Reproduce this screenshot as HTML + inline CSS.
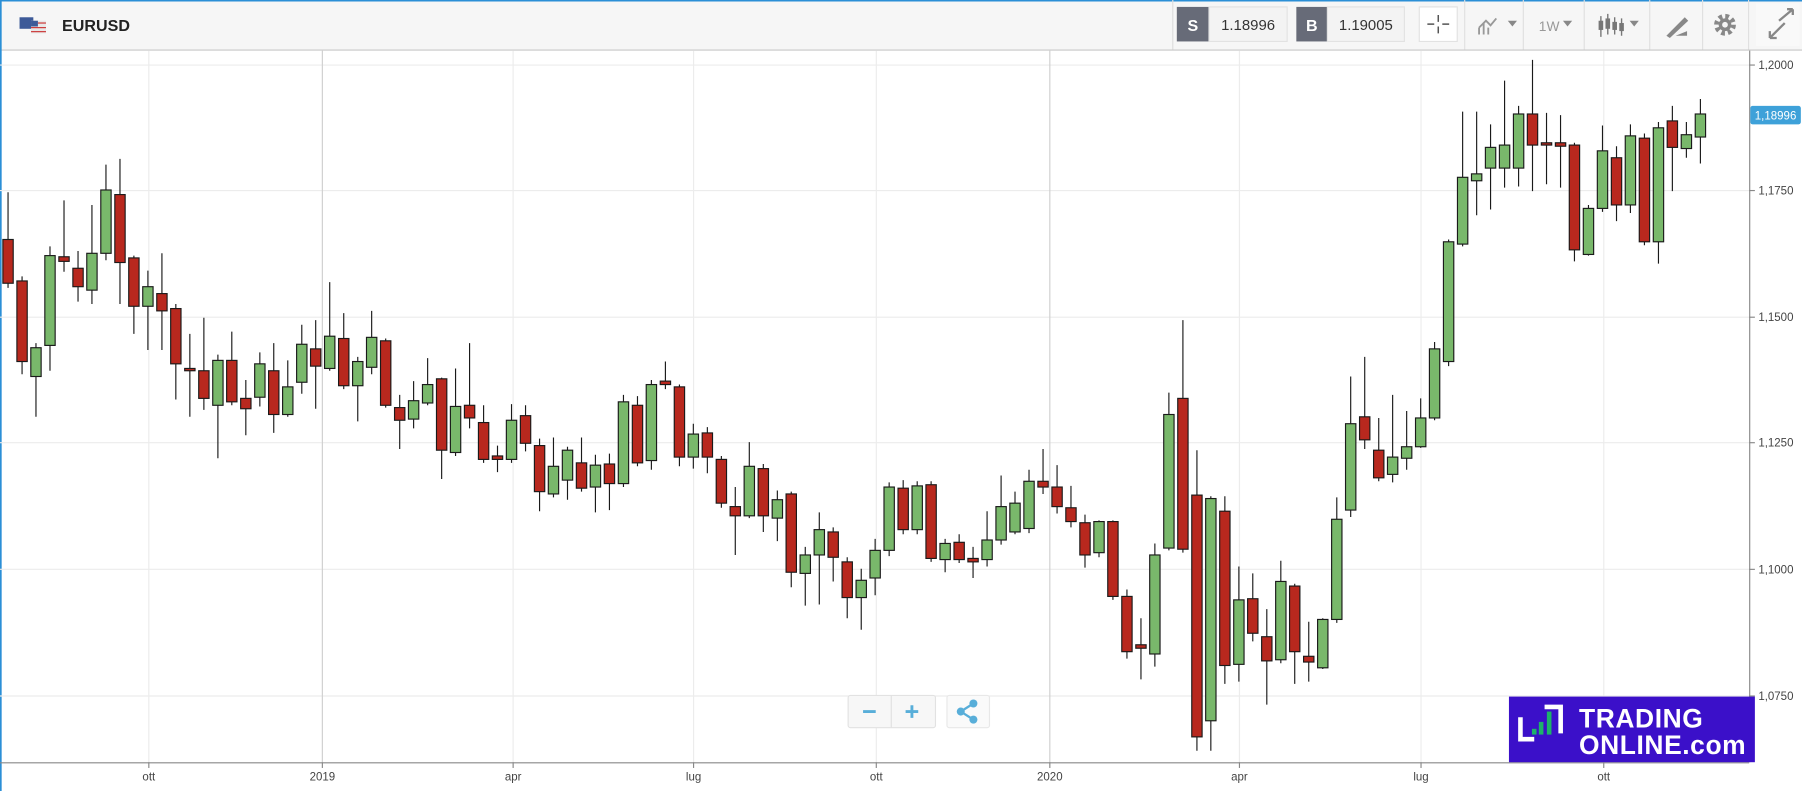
<!DOCTYPE html>
<html><head><meta charset="utf-8"><style>
html,body{margin:0;padding:0;background:#fff;}
svg{display:block;font-family:"Liberation Sans",sans-serif;}
</style></head><body>
<svg width="1802" height="791" viewBox="0 0 1568 687" preserveAspectRatio="none" xmlns="http://www.w3.org/2000/svg">
<rect x="0" y="0" width="1568" height="687" fill="#fff"/>
<rect x="0" y="0" width="1568" height="43" fill="#f6f6f6"/>
<line x1="0" y1="43.5" x2="1568" y2="43.5" stroke="#c8c8c8"/>
<line x1="0" y1="0.5" x2="1568" y2="0.5" stroke="#2b8fd6" stroke-width="1.5"/>
<line x1="0.7" y1="0" x2="0.7" y2="687" stroke="#2b8fd6" stroke-width="1.5"/>
<rect x="17" y="15" width="12" height="10" fill="#3d5a98"/>
<rect x="27" y="18" width="13" height="11" fill="#e8e8e8"/>
<rect x="27" y="18" width="6" height="5" fill="#3d5a98"/>
<line x1="33" y1="20" x2="40" y2="20" stroke="#c33"/><line x1="27" y1="24" x2="40" y2="24" stroke="#c33"/><line x1="27" y1="27.5" x2="40" y2="27.5" stroke="#c33"/>
<text x="54" y="27" font-size="14" font-weight="bold" fill="#222">EURUSD</text>
<line x1="1020.5" y1="0" x2="1020.5" y2="43" stroke="#ddd"/>
<rect x="1024" y="6" width="28" height="30" fill="#676b78"/>
<text x="1038" y="27" font-size="14" font-weight="bold" fill="#fff" text-anchor="middle">S</text>
<rect x="1052" y="6" width="68" height="30" fill="#f3f3f3" stroke="#e2e2e2"/>
<text x="1086" y="26" font-size="13" fill="#333" text-anchor="middle">1.18996</text>
<rect x="1128" y="6" width="27" height="30" fill="#676b78"/>
<text x="1141.5" y="27" font-size="14" font-weight="bold" fill="#fff" text-anchor="middle">B</text>
<rect x="1155" y="6" width="67" height="30" fill="#f3f3f3" stroke="#e2e2e2"/>
<text x="1188.5" y="26" font-size="13" fill="#333" text-anchor="middle">1.19005</text>
<rect x="1235" y="6" width="33" height="30" fill="#fff" stroke="#e2e2e2"/>
<path d="M1251.5 13V19M1251.5 23V29M1242 21H1248M1255 21H1261" stroke="#555" stroke-width="1.3"/>
<line x1="1274.5" y1="0" x2="1274.5" y2="43" stroke="#e0e0e0"/>
<path d="M1287 30V24M1291 30V20M1295 30V24M1287 24L1293 18L1297 22L1302 16" stroke="#999" stroke-width="1.6" fill="none"/>
<path d="M1312 18L1320 18L1316 23Z" fill="#888"/>
<line x1="1325.5" y1="0" x2="1325.5" y2="43" stroke="#e0e0e0"/>
<text x="1339" y="27" font-size="12" fill="#999">1W</text>
<path d="M1360 18L1368 18L1364 23Z" fill="#888"/>
<line x1="1378.5" y1="0" x2="1378.5" y2="43" stroke="#e0e0e0"/>
<path d="M1393 14V32M1399 12V30M1405 15V30M1411 16V31" stroke="#777" stroke-width="1.2"/>
<rect x="1391" y="18" width="4" height="8" fill="#777"/><rect x="1397" y="16" width="4" height="9" fill="#777"/><rect x="1403" y="19" width="4" height="7" fill="#777"/><rect x="1409" y="20" width="4" height="7" fill="#777"/>
<path d="M1418 18L1426 18L1422 23Z" fill="#888"/>
<line x1="1435.5" y1="0" x2="1435.5" y2="43" stroke="#e0e0e0"/>
<path d="M1450 31L1466 15L1469 18L1453 33Z" fill="#888"/><path d="M1458 31H1468V27Z" fill="#888"/>
<line x1="1481.5" y1="0" x2="1481.5" y2="43" stroke="#e0e0e0"/>
<circle cx="1501" cy="21.5" r="7" fill="none" stroke="#888" stroke-width="5" stroke-dasharray="3 2.5"/>
<circle cx="1501" cy="21.5" r="5.5" fill="#888"/><circle cx="1501" cy="21.5" r="2.5" fill="#f6f6f6"/>
<line x1="1521.5" y1="0" x2="1521.5" y2="43" stroke="#e0e0e0"/>
<rect x="1528" y="3" width="38" height="37" fill="#f9f9f9"/>
<path d="M1540 33L1553 20M1540 33V27M1540 33H1546" stroke="#888" stroke-width="2" fill="none"/>
<path d="M1548 18L1560 8M1560 8H1555M1560 8V13" stroke="#888" stroke-width="2" fill="none"/>
<g stroke="#ececec" stroke-width="1">
<line x1="0" y1="56.5" x2="1522" y2="56.5"/><line x1="0" y1="165.5" x2="1522" y2="165.5"/><line x1="0" y1="275.5" x2="1522" y2="275.5"/><line x1="0" y1="384.5" x2="1522" y2="384.5"/><line x1="0" y1="494.5" x2="1522" y2="494.5"/><line x1="0" y1="604.5" x2="1522" y2="604.5"/>
<line x1="129.5" y1="44" x2="129.5" y2="662"/><line x1="446.5" y1="44" x2="446.5" y2="662"/><line x1="603.5" y1="44" x2="603.5" y2="662"/><line x1="762.5" y1="44" x2="762.5" y2="662"/><line x1="1078.5" y1="44" x2="1078.5" y2="662"/><line x1="1236.5" y1="44" x2="1236.5" y2="662"/><line x1="1395.5" y1="44" x2="1395.5" y2="662"/>
</g>
<line x1="280.5" y1="44" x2="280.5" y2="662" stroke="#cfcfcf"/>
<line x1="913.5" y1="44" x2="913.5" y2="662" stroke="#cfcfcf"/>
<line x1="0" y1="662.5" x2="1522" y2="662.5" stroke="#888"/>
<line x1="1522.5" y1="44" x2="1522.5" y2="662" stroke="#888"/>
<g stroke="#888"><line x1="1522" y1="56.5" x2="1527" y2="56.5"/><line x1="1522" y1="165.5" x2="1527" y2="165.5"/><line x1="1522" y1="275.5" x2="1527" y2="275.5"/><line x1="1522" y1="384.5" x2="1527" y2="384.5"/><line x1="1522" y1="494.5" x2="1527" y2="494.5"/><line x1="1522" y1="604.5" x2="1527" y2="604.5"/>
<line x1="129.5" y1="662" x2="129.5" y2="667"/><line x1="280.5" y1="662" x2="280.5" y2="667"/><line x1="446.5" y1="662" x2="446.5" y2="667"/><line x1="603.5" y1="662" x2="603.5" y2="667"/><line x1="762.5" y1="662" x2="762.5" y2="667"/><line x1="913.5" y1="662" x2="913.5" y2="667"/><line x1="1078.5" y1="662" x2="1078.5" y2="667"/><line x1="1236.5" y1="662" x2="1236.5" y2="667"/><line x1="1395.5" y1="662" x2="1395.5" y2="667"/></g>
<g font-size="10" fill="#444">
<text x="1530" y="60">1,2000</text><text x="1530" y="169">1,1750</text><text x="1530" y="279">1,1500</text><text x="1530" y="388">1,1250</text><text x="1530" y="498">1,1000</text><text x="1530" y="608">1,0750</text>
</g>
<g font-size="10" fill="#444" text-anchor="middle">
<text x="129.5" y="678">ott</text><text x="280.5" y="678">2019</text><text x="446.5" y="678">apr</text><text x="603.5" y="678">lug</text><text x="762.5" y="678">ott</text><text x="913.5" y="678">2020</text><text x="1078.5" y="678">apr</text><text x="1236.5" y="678">lug</text><text x="1395.5" y="678">ott</text>
</g>
<rect x="1523" y="92" width="44" height="16" rx="2" fill="#3ea1d9"/>
<text x="1545" y="104" font-size="10" fill="#fff" text-anchor="middle">1,18996</text>
<path stroke="#1a1a1a" stroke-width="1" fill="none" d="M7 167V250M19.2 240V325M31.3 298V362M43.5 214V322M55.7 174V236M67.9 218V262M80 178V264M92.2 143V226M104.4 138V264M116.5 222V290M128.7 235V304M140.9 220V304M153 264V347M165.2 290V362M177.4 276V356M189.6 308V398M201.7 288V352M213.9 330V378M226.1 306V353M238.2 298V376M250.4 313V362M262.6 282V342M274.7 278V355M286.9 245V322M299.1 272V338M311.3 310V366M323.4 270V325M335.6 294V354M347.8 343V390M359.9 331V372M372.1 311V352M384.3 328V416M396.4 320V396M408.6 298V372M420.8 352V402M432.9 387V410M445.1 351V402M457.3 352V392M469.5 381V444M481.6 380V432M493.8 388V434M506 380V427M518.1 395V445M530.3 394V443M542.5 343V423M554.7 344V405M566.8 330V408M579 314V338M591.2 334V405M603.3 368V407M615.5 371V411M627.7 396V441M639.8 423V482M652 384V450M664.2 403V462M676.4 426V470M688.5 427V510M700.7 475V526M712.9 445V525M725 458V505M737.2 484V537M749.4 494V547M761.5 468V517M773.7 419V483M785.9 417V464M798.1 418V464M810.2 418V488M822.4 468V497M834.6 464V489M846.7 475V502M858.9 444V492M871.1 413V473M883.2 427V464M895.4 408V463M907.6 390V429M919.8 404V446M931.9 422V458M944.1 447V493M956.3 452V484M968.4 452V521M980.6 512V572M992.8 537V590M1004.9 472V579M1017.1 341V478M1029.3 278V480M1041.5 391V652M1053.6 431V652M1065.8 431V594M1078 492V592M1090.1 498V557M1102.3 529V612M1114.5 487V576M1126.6 507V594M1138.8 540V592M1151 537V581M1163.2 432V541M1175.3 327V449M1187.5 310V390M1199.7 363V418M1211.8 343V419M1224 357V408M1236.2 346V389M1248.3 297V365M1260.5 208V318M1272.7 97V214M1284.9 97V187M1297 108V182M1309.2 70V163M1321.4 92V162M1333.5 52V166M1345.7 98V160M1357.9 100V163M1370 124V227M1382.2 178V222M1394.4 109V184M1406.6 127V192M1418.7 108V185M1430.9 116V213M1443.1 106V229M1455.2 92V166M1467.4 106V137M1479.6 86V142"/>
<g fill="#b8281e" stroke="#1a1a1a" stroke-width="1">
<rect x="2.5" y="208" width="9" height="38"/><rect x="14.7" y="244" width="9" height="70"/><rect x="51.2" y="223" width="9" height="4"/><rect x="63.4" y="233" width="9" height="16"/><rect x="99.9" y="169" width="9" height="59"/><rect x="112" y="224" width="9" height="42"/><rect x="136.4" y="255" width="9" height="15"/><rect x="148.5" y="268" width="9" height="48"/><rect x="160.7" y="320" width="9" height="2"/><rect x="172.9" y="322" width="9" height="24"/><rect x="197.2" y="313" width="9" height="36"/><rect x="209.4" y="346" width="9" height="9"/><rect x="233.7" y="322" width="9" height="38"/><rect x="270.2" y="303" width="9" height="15"/><rect x="294.6" y="294" width="9" height="41"/><rect x="331.1" y="296" width="9" height="56"/><rect x="343.3" y="354" width="9" height="11"/><rect x="379.8" y="329" width="9" height="62"/><rect x="404.1" y="352" width="9" height="11"/><rect x="416.3" y="367" width="9" height="32"/><rect x="428.4" y="396" width="9" height="3"/><rect x="452.8" y="361" width="9" height="24"/><rect x="465" y="387" width="9" height="40"/><rect x="501.5" y="402" width="9" height="22"/><rect x="525.8" y="403" width="9" height="17"/><rect x="550.2" y="352" width="9" height="50"/><rect x="574.5" y="331" width="9" height="3"/><rect x="586.7" y="336" width="9" height="61"/><rect x="611" y="376" width="9" height="21"/><rect x="623.2" y="399" width="9" height="38"/><rect x="635.3" y="440" width="9" height="8"/><rect x="659.7" y="407" width="9" height="41"/><rect x="684" y="429" width="9" height="68"/><rect x="720.5" y="462" width="9" height="22"/><rect x="732.7" y="488" width="9" height="31"/><rect x="781.4" y="424" width="9" height="36"/><rect x="805.7" y="421" width="9" height="64"/><rect x="830.1" y="471" width="9" height="15"/><rect x="842.2" y="485" width="9" height="3"/><rect x="903.1" y="418" width="9" height="5"/><rect x="915.3" y="423" width="9" height="17"/><rect x="927.4" y="441" width="9" height="12"/><rect x="939.6" y="454" width="9" height="28"/><rect x="963.9" y="453" width="9" height="65"/><rect x="976.1" y="518" width="9" height="48"/><rect x="988.3" y="560" width="9" height="3"/><rect x="1024.8" y="346" width="9" height="131"/><rect x="1037" y="430" width="9" height="210"/><rect x="1061.3" y="444" width="9" height="134"/><rect x="1085.6" y="520" width="9" height="30"/><rect x="1097.8" y="553" width="9" height="21"/><rect x="1122.1" y="509" width="9" height="57"/><rect x="1134.3" y="570" width="9" height="5"/><rect x="1183" y="362" width="9" height="20"/><rect x="1195.2" y="391" width="9" height="24"/><rect x="1329" y="99" width="9" height="27"/><rect x="1341.2" y="124" width="9" height="2"/><rect x="1353.4" y="124" width="9" height="3"/><rect x="1365.5" y="126" width="9" height="91"/><rect x="1402.1" y="137" width="9" height="41"/><rect x="1426.4" y="120" width="9" height="90"/><rect x="1450.7" y="105" width="9" height="23"/>
</g>
<g fill="#79b86b" stroke="#1a1a1a" stroke-width="1">
<rect x="26.8" y="302" width="9" height="25"/><rect x="39" y="222" width="9" height="78"/><rect x="75.5" y="220" width="9" height="32"/><rect x="87.7" y="165" width="9" height="55"/><rect x="124.2" y="249" width="9" height="17"/><rect x="185.1" y="313" width="9" height="39"/><rect x="221.6" y="316" width="9" height="29"/><rect x="245.9" y="336" width="9" height="24"/><rect x="258.1" y="299" width="9" height="33"/><rect x="282.4" y="292" width="9" height="28"/><rect x="306.8" y="314" width="9" height="21"/><rect x="318.9" y="293" width="9" height="26"/><rect x="355.4" y="348" width="9" height="16"/><rect x="367.6" y="334" width="9" height="16"/><rect x="391.9" y="353" width="9" height="40"/><rect x="440.6" y="365" width="9" height="34"/><rect x="477.1" y="405" width="9" height="24"/><rect x="489.3" y="391" width="9" height="26"/><rect x="513.6" y="404" width="9" height="19"/><rect x="538" y="349" width="9" height="71"/><rect x="562.3" y="334" width="9" height="66"/><rect x="598.8" y="377" width="9" height="20"/><rect x="647.5" y="405" width="9" height="43"/><rect x="671.9" y="434" width="9" height="16"/><rect x="696.2" y="482" width="9" height="16"/><rect x="708.4" y="460" width="9" height="22"/><rect x="744.9" y="504" width="9" height="15"/><rect x="757" y="478" width="9" height="24"/><rect x="769.2" y="423" width="9" height="55"/><rect x="793.6" y="422" width="9" height="38"/><rect x="817.9" y="472" width="9" height="14"/><rect x="854.4" y="469" width="9" height="17"/><rect x="866.6" y="440" width="9" height="29"/><rect x="878.7" y="437" width="9" height="25"/><rect x="890.9" y="418" width="9" height="41"/><rect x="951.8" y="453" width="9" height="27"/><rect x="1000.4" y="482" width="9" height="86"/><rect x="1012.6" y="360" width="9" height="116"/><rect x="1049.1" y="433" width="9" height="193"/><rect x="1073.5" y="521" width="9" height="56"/><rect x="1110" y="505" width="9" height="68"/><rect x="1146.5" y="538" width="9" height="42"/><rect x="1158.7" y="451" width="9" height="87"/><rect x="1170.8" y="368" width="9" height="75"/><rect x="1207.3" y="397" width="9" height="15"/><rect x="1219.5" y="388" width="9" height="10"/><rect x="1231.7" y="363" width="9" height="25"/><rect x="1243.8" y="303" width="9" height="60"/><rect x="1256" y="210" width="9" height="104"/><rect x="1268.2" y="154" width="9" height="58"/><rect x="1280.4" y="151" width="9" height="6"/><rect x="1292.5" y="128" width="9" height="18"/><rect x="1304.7" y="126" width="9" height="20"/><rect x="1316.9" y="99" width="9" height="47"/><rect x="1377.7" y="181" width="9" height="40"/><rect x="1389.9" y="131" width="9" height="50"/><rect x="1414.2" y="118" width="9" height="60"/><rect x="1438.6" y="111" width="9" height="99"/><rect x="1462.9" y="117" width="9" height="12"/><rect x="1475.1" y="99" width="9" height="20"/>
</g>
<rect x="738" y="604" width="76" height="28" rx="2" fill="#f7f7f7" stroke="#e2e2e2"/>
<line x1="775.5" y1="604" x2="775.5" y2="632" stroke="#e0e0e0"/>
<path d="M751 618H762M788 618H799M793.5 612.5V623.5" stroke="#58aed9" stroke-width="2.5"/>
<rect x="824" y="604" width="37" height="28" rx="2" fill="#fafafa" stroke="#e8e8e8"/>
<path d="M847 611L836 618L847 625" stroke="#58aed9" stroke-width="2" fill="none"/>
<circle cx="836" cy="618" r="3.5" fill="#58aed9"/><circle cx="847" cy="611" r="3.5" fill="#58aed9"/><circle cx="847" cy="625" r="3.5" fill="#58aed9"/>
<rect x="1313" y="605" width="214" height="57" fill="#3b10c9"/>
<path d="M1323 623V642H1335" stroke="#fff" stroke-width="4" fill="none"/>
<path d="M1344 614H1358V637" stroke="#fff" stroke-width="4" fill="none"/>
<rect x="1333" y="633" width="4" height="5" fill="#1db36a"/><rect x="1339" y="627" width="4" height="11" fill="#1db36a"/><rect x="1346" y="618" width="4" height="20" fill="#1db36a"/>
<text x="1374" y="632" font-size="23" font-weight="bold" fill="#fff" letter-spacing="0.5">TRADING</text>
<text x="1374" y="655" font-size="23" font-weight="bold" fill="#fff" letter-spacing="0.5">ONLINE.com</text>
</svg>
</body></html>
